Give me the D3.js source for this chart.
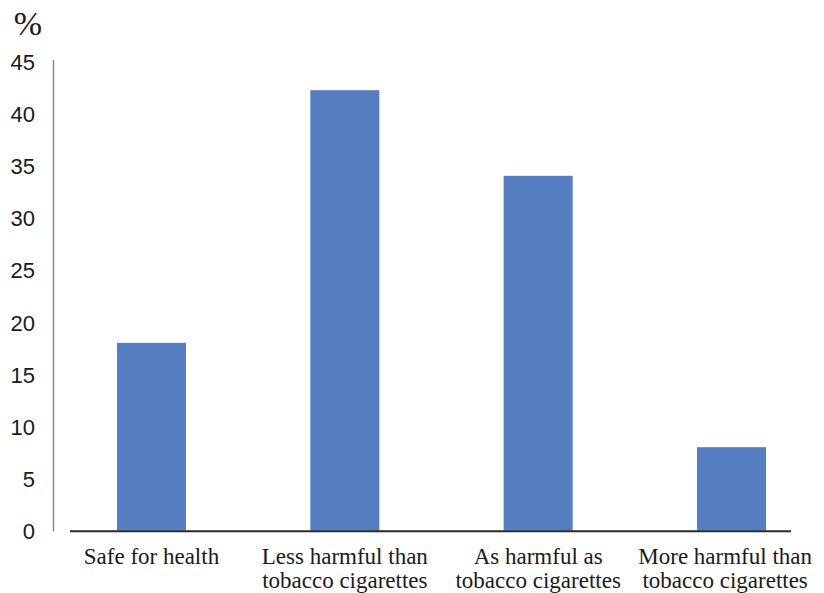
<!DOCTYPE html>
<html>
<head>
<meta charset="utf-8">
<script src="https://cdn.jsdelivr.net/npm/d3@7/dist/d3.min.js"></script>
<style>
  html, body { margin: 0; padding: 0; background: #fff; }
  svg { display: block; }
</style>
</head>
<body>
<svg id="chart" width="824" height="593"></svg>
<script>
// Perception of e-cigarette harm, share of respondents (%)
const categories = [
  ["Safe for health"],
  ["Less harmful than", "tobacco cigarettes"],
  ["As harmful as", "tobacco cigarettes"],
  ["More harmful than", "tobacco cigarettes"]
];
const values = [18, 42.2, 34, 8];
const yTicks = [0, 5, 10, 15, 20, 25, 30, 35, 40, 45];
const unitLabel = "%";

const W = 824;
const svg = d3.select("#chart");
const keys = categories.map(c => c.join(" "));

const x = d3.scaleBand()
  .domain(keys)
  .range([54.8, 828.2])
  .paddingInner(0.643)
  .paddingOuter(0.3215);

const y = d3.scaleLinear()
  .domain([0, 45])
  .range([530.7, 61]);

// Vertical value axis (plain gray line, no tick marks)
svg.append("line")
  .attr("x1", 53.5).attr("x2", 53.5)
  .attr("y1", y(45) - 1).attr("y2", y(0) + 0.5)
  .attr("stroke", "#8a8a8a")
  .attr("stroke-width", 1.5);

const yAxis = d3.axisLeft(y).tickValues(yTicks).tickSize(0).tickPadding(0);
const gy = svg.append("g")
  .attr("transform", "translate(35,0)")
  .call(yAxis);
gy.select(".domain").remove();
gy.selectAll("text")
  .attr("font-family", "'Liberation Sans', Arial, sans-serif")
  .attr("font-size", 22)
  .attr("fill", "#1a1a1a")
  .attr("dy", "0.37em");

// Unit label
svg.append("text")
  .attr("x", 28)
  .attr("y", 35)
  .attr("text-anchor", "middle")
  .attr("font-family", "'Liberation Serif', 'Times New Roman', serif")
  .attr("font-size", 34)
  .attr("fill", "#1a1a1a")
  .text(unitLabel);

// Bars
svg.append("g")
  .selectAll("rect")
  .data(values)
  .join("rect")
  .attr("x", (d, i) => x(keys[i]))
  .attr("width", x.bandwidth())
  .attr("y", d => y(d))
  .attr("height", d => y(0) - y(d))
  .attr("fill", "#567fc3");

// Category baseline
svg.append("line")
  .attr("x1", 70).attr("x2", 791)
  .attr("y1", y(0) + 0.5).attr("y2", y(0) + 0.5)
  .attr("stroke", "#2a2a2a")
  .attr("stroke-width", 2);

// Category labels, centred under each bar but kept inside the right edge
const labels = svg.append("g")
  .attr("font-family", "'Liberation Serif', 'Times New Roman', serif")
  .attr("font-size", 23)
  .attr("fill", "#1a1a1a")
  .attr("text-anchor", "middle");

categories.forEach((lines, i) => {
  let cx = x(keys[i]) + x.bandwidth() / 2;
  const t = labels.append("text").attr("y", 564);
  const spans = lines.map((ln, j) =>
    t.append("tspan").attr("y", 564 + j * 24).text(ln));
  const widest = d3.max(spans, s => s.node().getComputedTextLength());
  cx = Math.min(cx, W - 12 - widest / 2);
  spans.forEach(s => s.attr("x", cx));
});
</script>
</body>
</html>
